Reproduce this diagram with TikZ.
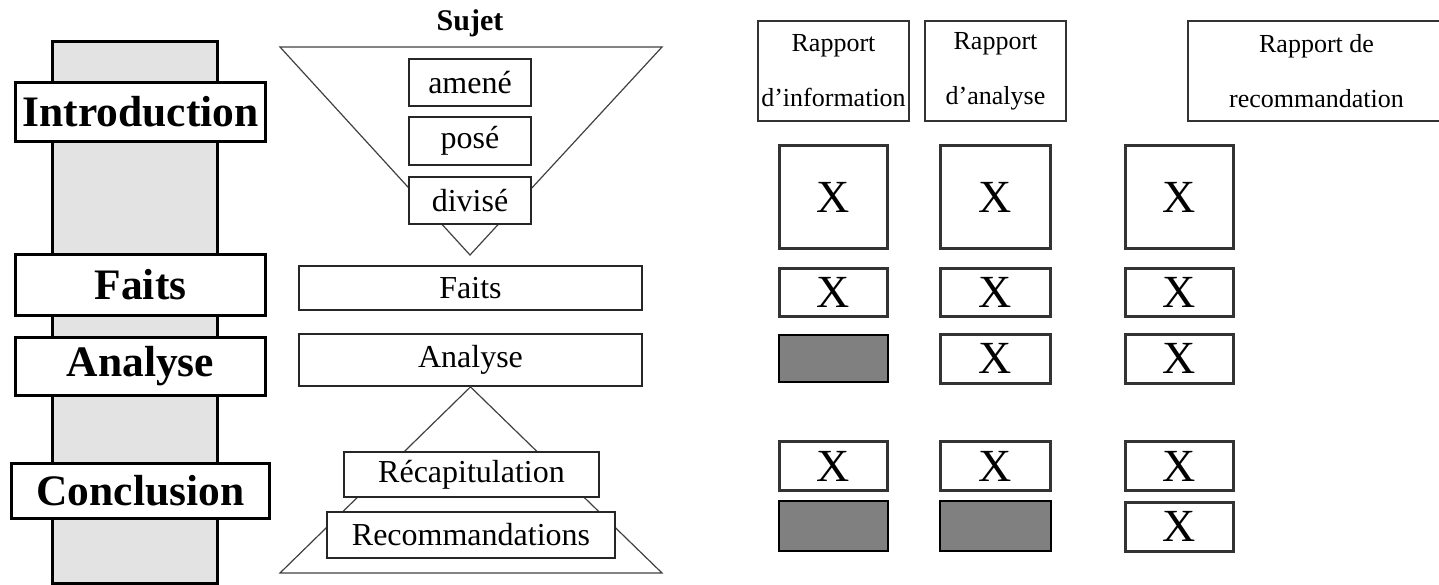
\documentclass[tikz,border=0pt]{standalone}
\usepackage{fontspec}
\setmainfont{Liberation Serif}
\begin{document}
\begin{tikzpicture}[x=1pt,y=-1pt,
  leftbox/.style={draw=black,line width=3pt,fill=white,inner sep=0pt,
    font=\fontsize{43.5}{50}\selectfont\bfseries},
  midbox/.style={draw=black!85,line width=1.8pt,fill=white,inner sep=0pt,
    font=\fontsize{32}{36}\selectfont},
  headbox/.style={draw=black!80,line width=1.8pt,fill=white,inner sep=0pt,align=center,
    font=\fontsize{26}{55}\selectfont},
  xbox/.style={draw=black!80,line width=3pt,fill=white,inner sep=0pt,
    font=\fontsize{46}{50}\selectfont},
  greybox/.style={draw=black,line width=2pt,fill=black!50,inner sep=0pt},
  tri/.style={draw=black!75,line width=1.2pt}]
\useasboundingbox (0,0) rectangle (1439,585);
% left column
\draw[line width=3pt,fill=black!11] (52,42) rectangle (217,583);
\node[leftbox,minimum width=250,minimum height=59] (intro) at (140.5,112) {Introduction};
\node[leftbox,minimum width=250,minimum height=61] (faitsL) at (140.5,285) {Faits};
\node[leftbox,minimum width=250,minimum height=58] (analL) at (140.5,366.5) {Analyse};
\node[leftbox,minimum width=258,minimum height=55] (concl) at (140.5,491) {Conclusion};
% middle column
\node[font=\fontsize{30}{34}\selectfont\bfseries] (sujet) at (470,23) {Sujet};
\coordinate (t1) at (280,47);
\coordinate (t2) at (662,47);
\coordinate (t3) at (470,255);
\draw[tri] (t1) -- (t2) -- (t3) -- cycle;
\node[midbox,minimum width=122,minimum height=47] (amene) at (470,82.5) {amené};
\node[midbox,minimum width=122,minimum height=48] (pose) at (470,141) {posé};
\node[midbox,minimum width=122,minimum height=47] (divise) at (470,200.5) {divisé};
\node[midbox,minimum width=343,minimum height=44] (faitsM) at (470.5,288) {Faits};
\node[midbox,minimum width=343,minimum height=52] (analM) at (470.5,360) {Analyse};
\coordinate (b1) at (280,573);
\coordinate (b2) at (662,573);
\draw[tri] (analM.south) -- (b1) -- (b2) -- cycle;
\node[midbox,minimum width=255,minimum height=45] (recap) at (471.5,474.5) {Récapitulation};
\node[midbox,minimum width=288,minimum height=46] (recom) at (471,535) {Recommandations};
% right: headers
\node[headbox,minimum width=151,minimum height=100] (h1) at (833.5,71) {Rapport\\d’information};
\node[headbox,minimum width=141,minimum height=100] (h2) at (995.5,71) {Rapport\\d’analyse};
\node[headbox,minimum width=257,minimum height=100] (h3) at (1316.5,71) {Rapport de\\recommandation};
% right: X grid
\node[xbox,minimum width=108,minimum height=103] (a1) at (833.5,197) {X};
\node[xbox,minimum width=110,minimum height=103] (b1x) at (995.5,197) {X};
\node[xbox,minimum width=108,minimum height=103] (c1) at (1179.5,197) {X};
\node[xbox,minimum width=108,minimum height=48] (a2) at (833.5,292.5) {X};
\node[xbox,minimum width=110,minimum height=48] (b2x) at (995.5,292.5) {X};
\node[xbox,minimum width=108,minimum height=48] (c2) at (1179.5,292.5) {X};
\node[greybox,minimum width=109,minimum height=47] (a3) at (833.5,358.5) {};
\node[xbox,minimum width=110,minimum height=49] (b3x) at (995.5,358.5) {X};
\node[xbox,minimum width=108,minimum height=49] (c3) at (1179.5,358.5) {X};
\node[xbox,minimum width=108,minimum height=49] (a4) at (833.5,466) {X};
\node[xbox,minimum width=110,minimum height=49] (b4x) at (995.5,466) {X};
\node[xbox,minimum width=108,minimum height=49] (c4) at (1179.5,466) {X};
\node[greybox,minimum width=109,minimum height=50] (a5) at (833.5,526) {};
\node[greybox,minimum width=111,minimum height=50] (b5x) at (995.5,526) {};
\node[xbox,minimum width=108,minimum height=49] (c5) at (1179.5,526.5) {X};
\end{tikzpicture}
\end{document}
